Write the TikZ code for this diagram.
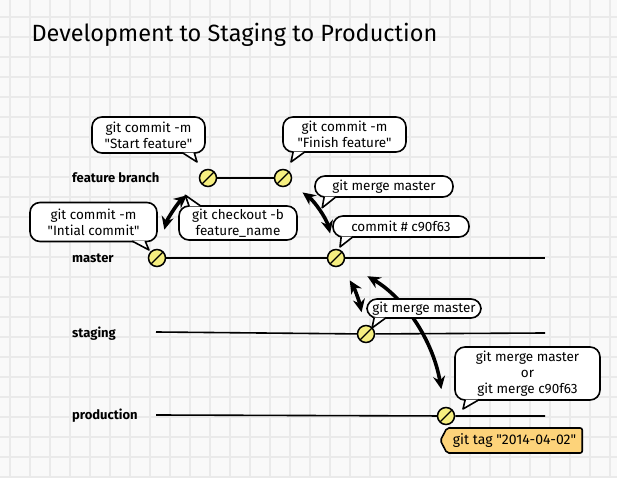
\documentclass[tikz,border=0pt]{standalone}
\usepackage{fontspec}
\setmainfont{Fira Sans}[Ligatures=TeXOff]
\usepackage{tikz}
\usetikzlibrary{arrows.meta, positioning, shapes.symbols, calc}
\definecolor{gridbg}{RGB}{249,249,249}
\definecolor{gridln}{RGB}{234,234,234}
\definecolor{commitfill}{RGB}{246,239,128}
\definecolor{tagfill}{RGB}{253,211,122}

\begin{document}
\begin{tikzpicture}[x=1pt, y=1pt, >=Stealth,
    lbl/.style={font=\fontsize{13}{15}\selectfont\bfseries, anchor=west, inner sep=0pt},
    branch/.style={line width=1.6pt},
    commit/.style={circle, draw, line width=1.5pt, fill=commitfill,
        minimum size=17pt, inner sep=0pt,
        path picture={\draw[line width=1.2pt] (path picture bounding box.south west)
            -- (path picture bounding box.north east);}},
    move/.style={<->, line width=3.6pt, >={Stealth[length=13pt, width=12pt]}},
    bubble/.style={draw, line width=1.6pt, fill=white, rounded corners=10pt,
        align=center, font=\fontsize{13.5}{16}\selectfont, inner sep=2pt},
    tail/.style={draw, line width=1.6pt, fill=white, line join=round},
    tagbox/.style={signal, signal to=west, signal pointer angle=125, draw,
        line width=1.6pt, fill=tagfill, rounded corners=2pt,
        font=\fontsize{14}{16}\selectfont, minimum height=25pt, inner xsep=6pt}]

  \useasboundingbox (0,0) rectangle (617,478);
  \fill[gridbg] (0,0) rectangle (617,478);
  \draw[gridln, line width=1.2pt, xshift=10pt, yshift=1pt] (-10,-1) grid[step=20] (607,477);

  \node[font=\fontsize{23.5}{26}\selectfont, anchor=base west] (title) at (28,436)
    {Development to Staging to Production};

  \node[lbl] (lfeat) at (72,300) {feature branch};
  \node[lbl] (lmaster) at (72,220) {master};
  \node[lbl] (lstaging) at (72,144) {staging};
  \node[lbl] (lprod) at (72,62) {production};

  \node[commit] (c0) at (157,220) {};
  \node[commit] (f1) at (208,300) {};
  \node[commit] (f2) at (283,300) {};
  \node[commit] (m1) at (336,220) {};
  \node[commit] (s1) at (366,144) {};
  \node[commit] (p1) at (446,62) {};

  \coordinate (mend) at (545,220);
  \coordinate (sstart) at (156,146);
  \coordinate (send) at (545,145);
  \coordinate (pstart) at (156,63);
  \coordinate (pend) at (545,62);

  \draw[branch] (f1) -- (f2);
  \draw[branch] (c0) -- (m1) -- (mend);
  \draw[branch] (sstart) -- (s1) -- (send);
  \draw[branch] (pstart) -- (p1) -- (pend);

  \draw[move, shorten <=20pt, shorten >=18pt] (c0) to[bend left=18] (f1);
  \draw[move, shorten <=15pt, shorten >=16pt] (f2) to[bend left=20] (m1);
  \draw[move, shorten <=17pt, shorten >=13pt] (m1) to[bend left=10] (s1);
  \draw[move, shorten <=27pt, shorten >=18pt] (m1) to[bend left=25] (p1);

  \node[bubble, minimum width=113pt, minimum height=36pt] (b1) at (148.5,343)
    {git commit -m\\"Start feature"};
  \draw[tail] ($(b1.south west)+(91,1.2)$) -- ($(f1)+(-11,16)$)
    -- ($(b1.south west)+(103,1.2)$);

  \node[bubble, minimum width=123pt, minimum height=35pt] (b2) at (344.5,343.5)
    {git commit -m\\"Finish feature"};
  \draw[tail] ($(b2.south west)+(11,1.2)$) -- ($(f2)+(8,16)$)
    -- ($(b2.south west)+(23,1.2)$);

  \node[bubble, minimum width=138pt, minimum height=21pt] (b3) at (384,291.5)
    {git merge master};
  \draw[tail] ($(b3.south west)+(10,1.2)$) -- ($(b3.south west)+(8,-10)$)
    -- ($(b3.south west)+(22,1.2)$);

  \node[bubble, minimum width=136pt, minimum height=21pt] (b4) at (401,251.5)
    {commit \# c90f63};
  \draw[tail] ($(b4.south west)+(9,1.2)$) -- ($(m1)+(4,11)$)
    -- ($(b4.south west)+(21,1.2)$);

  \node[bubble, minimum width=118pt, minimum height=34pt] (b5) at (238,255)
    {git checkout -b\\feature\_name};
  \draw[tail] ($(b5.north west)+(11,-1.2)$) -- ($(b5.north west)+(7,10)$)
    -- ($(b5.north west)+(23,-1.2)$);

  \node[bubble, minimum width=127pt, minimum height=39pt] (b6) at (93.5,256)
    {git commit -m\\"Intial commit"};
  \draw[tail] ($(b6.south west)+(103,1.2)$) -- ($(c0)+(-8,8)$)
    -- ($(b6.south west)+(116,1.2)$);

  \node[bubble, minimum width=114pt, minimum height=19pt] (b7) at (424,169.5)
    {git merge master};
  \draw[tail] ($(b7.south west)+(8,1.2)$) -- ($(s1)+(6,6)$)
    -- ($(b7.south west)+(20,1.2)$);

  \node[bubble, minimum width=145pt, minimum height=53pt] (b8) at (527.5,104.5)
    {git merge master\\or\\git merge c90f63};
  \draw[tail] ($(b8.south west)+(11,1.2)$) -- ($(p1)+(17,7)$)
    -- ($(b8.south west)+(25,1.2)$);

  \node[tagbox, anchor=east] (tag) at (583,37.5) {git tag "2014-04-02"};
\end{tikzpicture}
\end{document}
